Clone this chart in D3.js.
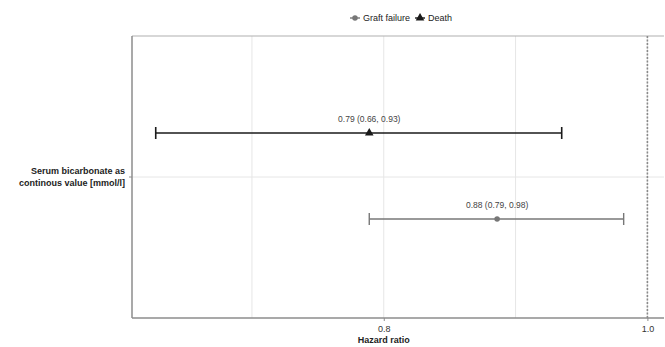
<!DOCTYPE html>
<html>
<head>
<meta charset="utf-8">
<script src="https://cdn.jsdelivr.net/npm/d3@7"></script>
<style>
  body { margin: 0; background: #fff; }
  text { font-family: "Liberation Sans", Arial, sans-serif; }
</style>
</head>
<body>
<div id="chart"></div>
<script>
// data
const exposure = ["Serum bicarbonate as|continous value [mmol/l]"];
const outcomes = ["Death", "Graft failure"];
const estimates = [0.789, 0.886];
const lowerCI = [0.627, 0.789];
const upperCI = [0.935, 0.982];
const ciLabels = ["0.79 (0.66, 0.93)", "0.88 (0.79, 0.98)"];
const majorTicks = [0.8, 1.0];
const minorTicks = [0.7, 0.9];
const refValue = 1.0;

const width = 665, height = 347;
const margin = { top: 36, right: 1, bottom: 29, left: 132 };
const innerWidth = width - margin.left - margin.right;
const innerHeight = height - margin.top - margin.bottom;

const colors = { "Death": "#1a1a1a", "Graft failure": "#777777" };

const svg = d3.select("#chart").append("svg")
  .attr("width", width)
  .attr("height", height);

const innerChart = svg.append("g")
  .attr("transform", `translate(${margin.left}, ${margin.top})`);

const xScale = d3.scaleLinear()
  .domain([0.609, 1.0126])
  .range([0, innerWidth]);

const yBand = d3.scaleBand()
  .domain(exposure)
  .range([0, innerHeight]);

const yScale = d3.scalePoint()
  .domain(outcomes)
  .range([97, 183]);

// grid
innerChart.selectAll(".grid-x")
  .data(majorTicks.concat(minorTicks))
  .join("line")
    .attr("x1", d => xScale(d))
    .attr("x2", d => xScale(d))
    .attr("y1", 0)
    .attr("y2", innerHeight)
    .attr("stroke", "#e6e6e6")
    .attr("stroke-width", 1);

innerChart.append("line")
  .attr("x1", 0).attr("x2", innerWidth)
  .attr("y1", yBand(exposure[0]) + yBand.bandwidth() / 2)
  .attr("y2", yBand(exposure[0]) + yBand.bandwidth() / 2)
  .attr("stroke", "#e6e6e6");

// top border
innerChart.append("line")
  .attr("x1", 0).attr("x2", innerWidth)
  .attr("y1", 0).attr("y2", 0)
  .attr("stroke", "#b0b0b0")
  .attr("stroke-width", 1.2);

// reference line
innerChart.append("line")
  .attr("x1", xScale(refValue)).attr("x2", xScale(refValue))
  .attr("y1", 0).attr("y2", innerHeight)
  .attr("stroke", "#8a8a8a")
  .attr("stroke-width", 1.6)
  .attr("stroke-dasharray", "2,1.5");

// axes
const xAxis = innerChart.append("g")
  .attr("transform", `translate(0, ${innerHeight})`)
  .call(d3.axisBottom(xScale)
    .tickValues(majorTicks)
    .tickFormat(d3.format(".1f"))
    .tickSize(3)
    .tickSizeOuter(0)
  );
xAxis.select(".domain").attr("stroke", "#8c8c8c").attr("stroke-width", 1.5)
  .attr("d", `M0,0H${innerWidth}`);
xAxis.selectAll(".tick line").attr("stroke", "#8c8c8c");
xAxis.selectAll(".tick text")
  .attr("fill", "#333")
  .attr("font-size", 9)
  .attr("dy", "0.85em");

const yAxis = innerChart.append("g")
  .call(d3.axisLeft(yBand)
    .tickSize(3)
    .tickSizeOuter(0)
    .tickFormat("")
  );
yAxis.select(".domain").attr("stroke", "#8c8c8c").attr("stroke-width", 1.5)
  .attr("d", `M0,0V${innerHeight}`);
yAxis.selectAll(".tick line").attr("stroke", "#8c8c8c");
yAxis.selectAll(".tick").each(function(d) {
  const lines = d.split("|");
  d3.select(this).append("text")
    .attr("x", -7)
    .attr("text-anchor", "end")
    .attr("font-size", 9)
    .attr("font-weight", "bold")
    .attr("fill", "#222")
    .selectAll("tspan")
    .data(lines)
    .join("tspan")
      .attr("x", -7)
      .attr("y", (l, i) => (i - (lines.length - 1) / 2) * 11.5 + 3)
      .text(l => l);
});

innerChart.append("text")
  .attr("x", xScale(0.8))
  .attr("y", innerHeight + 25)
  .attr("text-anchor", "middle")
  .attr("font-size", 9)
  .attr("font-weight", "bold")
  .attr("fill", "#222")
  .text("Hazard ratio");

// error bars
const rows = outcomes.map((o, i) => ({
  outcome: o, est: estimates[i], lo: lowerCI[i], hi: upperCI[i], label: ciLabels[i]
}));

const capH = 6;
const rowG = innerChart.selectAll(".row")
  .data(rows)
  .join("g")
    .attr("class", "row");

rowG.append("line")
  .attr("x1", d => xScale(d.lo)).attr("x2", d => xScale(d.hi))
  .attr("y1", d => yScale(d.outcome)).attr("y2", d => yScale(d.outcome))
  .attr("stroke", d => colors[d.outcome])
  .attr("stroke-width", d => d.outcome === "Death" ? 1.6 : 1.4);

["lo", "hi"].forEach(k => {
  rowG.append("line")
    .attr("x1", d => xScale(d[k])).attr("x2", d => xScale(d[k]))
    .attr("y1", d => yScale(d.outcome) - capH)
    .attr("y2", d => yScale(d.outcome) + capH)
    .attr("stroke", d => colors[d.outcome])
    .attr("stroke-width", d => d.outcome === "Death" ? 1.6 : 1.4);
});

const symbolFor = o => o === "Death" ? d3.symbolTriangle : d3.symbolCircle;
const symbolSize = o => o === "Death" ? 32 : 24;

rowG.append("path")
  .attr("d", d => d3.symbol(symbolFor(d.outcome), symbolSize(d.outcome))())
  .attr("transform", d => `translate(${xScale(d.est)}, ${yScale(d.outcome)})`)
  .attr("fill", d => colors[d.outcome]);

rowG.append("text")
  .attr("x", d => xScale(d.est))
  .attr("y", d => yScale(d.outcome) - 11)
  .attr("text-anchor", "middle")
  .attr("font-size", 8.5)
  .attr("fill", "#444")
  .text(d => d.label);

// legend
const legendItems = ["Graft failure", "Death"];
const legend = svg.append("g").attr("transform", "translate(350, 18)");
let lx = 0;
legendItems.forEach(o => {
  const g = legend.append("g").attr("transform", `translate(${lx}, 0)`);
  g.append("line")
    .attr("x1", 0).attr("x2", 10).attr("y1", 0).attr("y2", 0)
    .attr("stroke", colors[o]).attr("stroke-width", 1.4);
  g.append("path")
    .attr("d", d3.symbol(symbolFor(o), symbolSize(o))())
    .attr("transform", "translate(5, 0)")
    .attr("fill", colors[o]);
  const t = g.append("text")
    .attr("x", 13)
    .attr("y", 3.2)
    .attr("font-size", 9)
    .attr("fill", "#222")
    .text(o);
  lx += 13 + t.node().getComputedTextLength() + 5;
});
</script>
</body>
</html>
